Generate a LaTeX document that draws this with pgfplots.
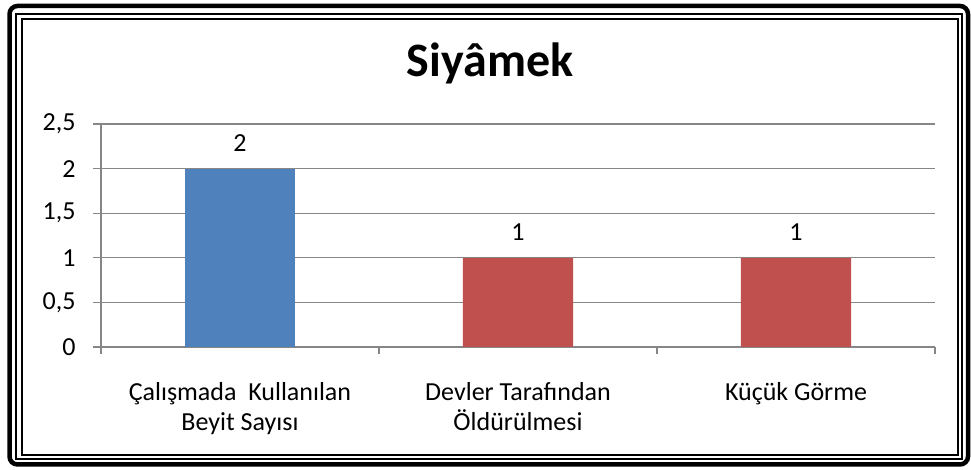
\documentclass[border=0pt]{standalone}
\usepackage{pgfplots}
\pgfplotsset{compat=1.18}
\usepackage{fontspec}
\setmainfont{Carlito}
\definecolor{barblue}{RGB}{79,129,189}
\definecolor{barred}{RGB}{192,80,77}
\definecolor{gridgray}{RGB}{134,134,134}
\begin{document}
\begin{tikzpicture}[x=1pt,y=1pt]
\useasboundingbox (0,0) rectangle (971,470);
% frame
\draw[line width=4.5pt,rounded corners=8pt] (9.5,5.5) rectangle (968,464);
\draw[line width=2pt] (16,10.5) rectangle (962,456);
\draw[line width=2pt] (22,15) rectangle (957.5,450.5);
% title
\node[anchor=base,font=\fontsize{48}{57}\selectfont\bfseries] at (490,393) {Siyâmek};
\begin{axis}[
  at={(101pt,123pt)}, anchor=south west,
  scale only axis, width=834pt, height=223pt,
  xmin=-0.5, xmax=2.5, ymin=0, ymax=2.5,
  axis x line=bottom, axis y line=left,
  axis line style={draw=gridgray, line width=1.3pt, -},
  ytick={0,0.5,1,1.5,2,2.5},
  yticklabels={0,{0,5},1,{1,5},2,{2,5}},
  xtick={0,1,2},
  xticklabels={{Çalışmada\ \ Kullanılan\\Beyit Sayısı},{Devler Tarafından\\Öldürülmesi},{Küçük Görme}},
  minor xtick={-0.5,0.5,1.5,2.5},
  major x tick style={draw=none},
  tick align=outside,
  major tick length=8pt, minor tick length=7pt,
  tick style={draw=gridgray, line width=1.3pt},
  ymajorgrids, grid style={draw=gridgray, line width=1.3pt},
  xminorgrids=false,
  tick label style={font=\fontsize{26}{30}\selectfont},
  xticklabel style={align=center, anchor=north, yshift=-24pt},
  yticklabel style={xshift=-14pt},
  ybar, bar width=0.396, bar shift=0pt,
  /pgf/number format/assume math mode=true,
  nodes near coords,
  nodes near coords style={font=\fontsize{26}{31}\selectfont, yshift=14pt, text=black},
  clip=false,
]
\addplot[fill=barblue, draw=none] coordinates {(0,2)};
\addplot[fill=barred, draw=none] coordinates {(1,1) (2,1)};
\end{axis}
\end{tikzpicture}
\end{document}
